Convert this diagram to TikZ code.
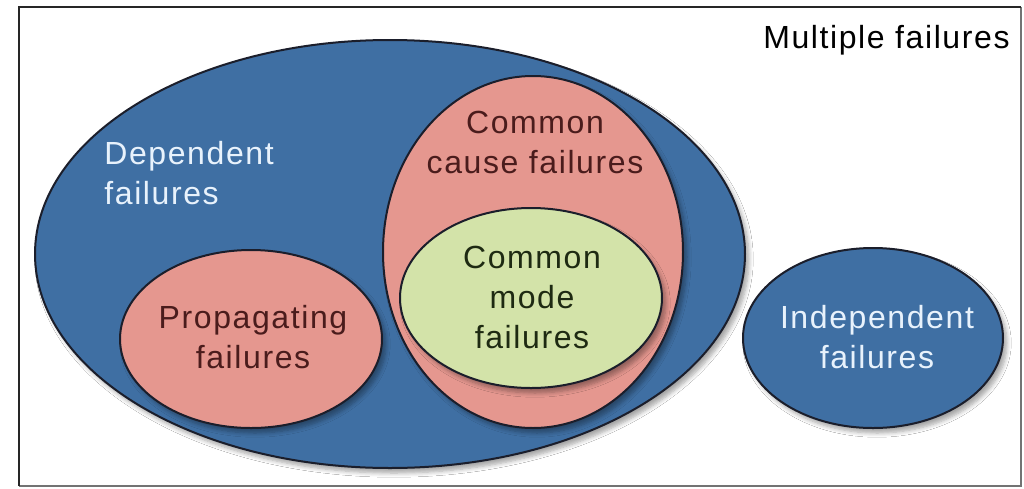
\documentclass[tikz,border=0pt]{standalone}
\usepackage{fontspec}
\setmainfont{Liberation Sans}[LetterSpace=5]
\usetikzlibrary{shapes.geometric,shadows.blur}
\definecolor{setblue}{HTML}{3F6FA3}
\definecolor{setpink}{HTML}{E5978F}
\definecolor{setgreen}{HTML}{D3E3A9}
\definecolor{rimdark}{HTML}{1B1E2B}
\definecolor{lighttext}{HTML}{E8F2FC}
\definecolor{darkred}{HTML}{4A1C1C}
\definecolor{darkgreen}{HTML}{1E2A12}
\tikzset{
  setshape/.style={ellipse, draw=rimdark, line width=1pt, inner sep=0pt,
    blur shadow={shadow xshift=2pt, shadow yshift=-2.5pt, shadow blur steps=6, shadow opacity=35}},
  blueset/.style={setshape, fill=setblue},
  pinkset/.style={setshape, fill=setpink},
  greenset/.style={setshape, fill=setgreen},
  label/.style={font=\fontsize{16}{20}\selectfont, inner sep=0pt, align=center},
}
\begin{document}
\begin{tikzpicture}[x=0.5pt, y=-0.5pt]
  \useasboundingbox (0,0) rectangle (1024,488);
  \fill[white] (0,0) rectangle (1024,488);
  % outer frame
  \coordinate (fa) at (19,7);
  \coordinate (fb) at (1021,7);
  \coordinate (fc) at (1021,486);
  \coordinate (fd) at (19,486);
  \draw[line width=1pt, black!55] (fb) -- (fc) -- (fd);
  \draw[line width=1.2pt, black!85] (fd) -- (fa) -- (fb);
  \node[label, anchor=east] (multi) at (1010,40) {Multiple failures};

  % sets
  \node[blueset, minimum width=710pt*0.5, minimum height=428pt*0.5] (dep) at (390,254) {};
  \node[pinkset, minimum width=300pt*0.5, minimum height=352pt*0.5] (ccf) at (533,252) {};
  \node[pinkset, minimum width=262pt*0.5, minimum height=178pt*0.5] (prop) at (251,339) {};
  \node[greenset, minimum width=262pt*0.5, minimum height=180pt*0.5] (cmf) at (531,298) {};
  \node[blueset, minimum width=260pt*0.5, minimum height=180pt*0.5] (ind) at (873,338) {};

  % labels
  \node[label, align=left, anchor=west, text=lighttext] (deptext) at (104,173) {Dependent\\failures};
  \node[label, text=darkred] (ccftext) at (535,142) {Common\\cause failures};
  \node[label, text=darkgreen] (cmftext) at (532,297) {Common\\mode\\failures};
  \node[label, text=darkred] (proptext) at (253,337) {Propagating\\failures};
  \node[label, text=lighttext] (indtext) at (877,337) {Independent\\failures};
\end{tikzpicture}
\end{document}
